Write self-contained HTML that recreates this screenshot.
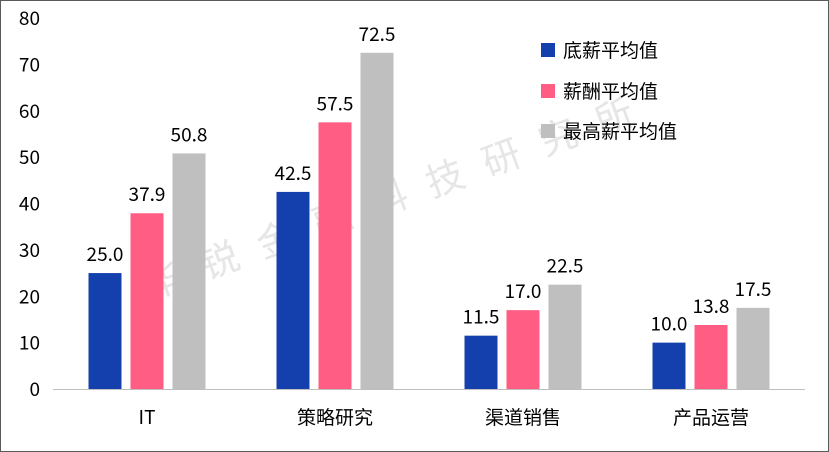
<!DOCTYPE html>
<html><head><meta charset="utf-8"><style>
body{margin:0;background:#fff}
svg{display:block;font-family:"Noto Sans CJK SC","Liberation Sans",sans-serif}
</style></head><body>
<svg id="chart" width="829" height="452" viewBox="0 0 829 452" xmlns="http://www.w3.org/2000/svg">
<rect x="0.5" y="0.5" width="828" height="451" fill="#fff" stroke="#595959"/>
<text x="150" y="300" fill="#e6e6e6" font-size="38" transform="rotate(-20 150 300)" letter-spacing="22">华锐金融科技研究所</text>
<g id="axes"></g><g id="bars"></g><g id="labels"></g>
<g font-size="19" fill="#000">
<rect x="541" y="43" width="14" height="14" fill="#1440AE"/>
<text x="563" y="57">底薪平均值</text>
<rect x="541" y="84" width="14" height="14" fill="#FF5D84"/>
<text x="563" y="98">薪酬平均值</text>
<rect x="541" y="124" width="14" height="14" fill="#BFBFBF"/>
<text x="563" y="138">最高薪平均值</text>
</g>
</svg>
<script>
const categories=["IT","策略研究","渠道销售","产品运营"];
const baseSalary=[25.0,42.5,11.5,10.0];
const avgPay=[37.9,57.5,17.0,13.8];
const maxSalary=[50.8,72.5,22.5,17.5];
const yTicks=[0,10,20,30,40,50,60,70,80];
const seriesList=[baseSalary,avgPay,maxSalary];
const seriesNames=["base","pay","max"];
const colors=["#1440AE","#FF5D84","#BFBFBF"];
const NS="http://www.w3.org/2000/svg";
const x0=53,x1=805,y0=389,yTop=18,yMax=80;
const y=v=>y0-(v/yMax)*(y0-yTop);
const band=(x1-x0)/categories.length;
const cx=i=>x0+band*(i+0.5);
function mk(tag,attrs,parent){const e=document.createElementNS(NS,tag);for(const k in attrs)e.setAttribute(k,attrs[k]);parent.appendChild(e);return e;}
const axes=document.getElementById("axes"),bars=document.getElementById("bars"),labels=document.getElementById("labels");
yTicks.forEach(t=>{const e=mk("text",{x:40,y:y(t)+7,"text-anchor":"end","font-size":"19",fill:"#000"},axes);e.textContent=t;

});
const ax=mk("line",{x1:x0,x2:x1,y1:y0+0.5,y2:y0+0.5,stroke:"#BFBFBF","stroke-width":1},axes);


categories.forEach((c,i)=>{const e=mk("text",{x:cx(i),y:424,"text-anchor":"middle","font-size":"19",fill:"#000"},axes);e.textContent=c;


seriesList.forEach((s,j)=>{const bx=cx(i)+(j-1)*42-16.5;
const r=mk("rect",{x:bx,y:y(s[i]),width:33,height:y0-y(s[i]),fill:colors[j]},bars);


const t=mk("text",{x:bx+16.5,y:y(s[i])-12,"text-anchor":"middle","font-size":"19",fill:"#000"},labels);t.textContent=s[i].toFixed(1);

});});
</script>
</body></html>
